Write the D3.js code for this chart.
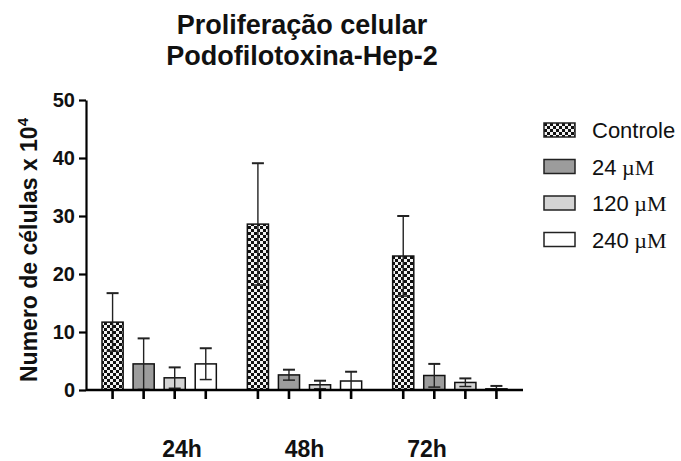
<!DOCTYPE html>
<html>
<head>
<meta charset="utf-8">
<script src="https://cdn.jsdelivr.net/npm/d3@7"></script>
<style>
  body { margin: 0; background: #fff; }
  text { font-family: "Liberation Sans", Arial, sans-serif; }
</style>
</head>
<body>
<svg id="chart" width="681" height="461"></svg>
<script>
// Data
let groups = ["24h", "48h", "72h"];
let series = ["Controle", "24", "120", "240"];
let seriesUnit = ["", " \u00b5M", " \u00b5M", " \u00b5M"];
let controleMean = [11.7, 28.6, 23.1];
let m24Mean = [4.5, 2.6, 2.5];
let m120Mean = [2.1, 0.9, 1.3];
let m240Mean = [4.5, 1.55, 0.2];
let controleErr = [5.0, 10.5, 6.9];
let m24Err = [4.4, 0.9, 2.0];
let m120Err = [1.8, 0.7, 0.7];
let m240Err = [2.7, 1.6, 0.5];
let yTicks = [0, 10, 20, 30, 40, 50];

let means = [controleMean, m24Mean, m120Mean, m240Mean];
let errs = [controleErr, m24Err, m120Err, m240Err];
let fills = ["url(#checker)", "#9c9c9c", "#d4d4d4", "#ffffff"];

// flatten into rows for the joins
let rows = [];
groups.forEach((g, gi) => {
    series.forEach((s, si) => {
        rows.push({ group: g, series: s, mean: means[si][gi], err: errs[si][gi], fill: fills[si] });
    });
});

let svg = d3.select("#chart");
let marginLeft = 86, marginTop = 100, width = 437, height = 290;

// checker pattern for the control bars
let pat = svg.append("defs").append("pattern")
    .attr("id", "checker")
    .attr("patternUnits", "userSpaceOnUse")
    .attr("width", 6).attr("height", 6);
pat.append("rect").attr("width", 6).attr("height", 6).attr("fill", "#f2f2f2");
pat.append("rect").attr("width", 3).attr("height", 3).attr("fill", "#111");
pat.append("rect").attr("x", 3).attr("y", 3).attr("width", 3).attr("height", 3).attr("fill", "#111");

let g = svg.append("g").attr("transform", `translate(${marginLeft},${marginTop})`);

let x0 = d3.scaleBand().domain(groups).range([0, width]).paddingInner(0.145).paddingOuter(0.076);
let x1 = d3.scaleBand().domain(series).range([0, x0.bandwidth()]).paddingInner(0.32).paddingOuter(0.16);
let y = d3.scaleLinear().domain([0, 50]).range([height, 0]);

// Bars
g.selectAll("rect.bar").data(rows).join("rect")
    .attr("class", "bar")
    .attr("x", d => x0(d.group) + x1(d.series))
    .attr("y", d => y(d.mean))
    .attr("width", x1.bandwidth())
    .attr("height", d => y(0) - y(d.mean))
    .attr("fill", d => d.fill)
    .attr("stroke", "#111")
    .attr("stroke-width", 1.5);

// Error bars
let eb = g.selectAll("g.err").data(rows).join("g")
    .attr("class", "err")
    .attr("transform", d => `translate(${x0(d.group) + x1(d.series) + x1.bandwidth() / 2},0)`);
eb.append("line")
    .attr("y1", d => y(d.mean + d.err))
    .attr("y2", d => y(Math.max(0, d.mean - d.err)))
    .attr("stroke", "#222").attr("stroke-width", 1.4);
eb.append("line")
    .attr("x1", -6).attr("x2", 6)
    .attr("y1", d => y(d.mean + d.err)).attr("y2", d => y(d.mean + d.err))
    .attr("stroke", "#222").attr("stroke-width", 2);
eb.append("line")
    .attr("x1", -6).attr("x2", 6)
    .attr("y1", d => y(Math.max(0, d.mean - d.err))).attr("y2", d => y(Math.max(0, d.mean - d.err)))
    .attr("stroke", "#222").attr("stroke-width", 1.5);

// y axis
let yAxis = d3.axisLeft(y).tickValues(yTicks).tickSize(7).tickSizeOuter(0).tickPadding(4);
let ya = g.append("g").call(yAxis);
ya.select(".domain").attr("stroke", "#000").attr("stroke-width", 2.2);
ya.selectAll(".tick line").attr("stroke", "#000").attr("stroke-width", 2.2);
ya.selectAll(".tick text")
    .attr("fill", "#111")
    .style("font-family", "Liberation Sans, Arial, sans-serif")
    .style("font-size", "20px").style("font-weight", "bold");

// x axis baseline and one tick per bar
g.append("line")
    .attr("x1", 0).attr("x2", width)
    .attr("y1", height).attr("y2", height)
    .attr("stroke", "#000").attr("stroke-width", 2.4);
g.selectAll("line.xtick").data(rows).join("line")
    .attr("class", "xtick")
    .attr("x1", d => x0(d.group) + x1(d.series) + x1.bandwidth() / 2)
    .attr("x2", d => x0(d.group) + x1(d.series) + x1.bandwidth() / 2)
    .attr("y1", height).attr("y2", height + 9)
    .attr("stroke", "#000").attr("stroke-width", 2.6);

// group labels sit off-centre in the original, so they get their own scale
let labelX = d3.scalePoint().domain(groups).range([182 - marginLeft, 427 - marginLeft]);
g.selectAll("text.glabel").data(groups).join("text")
    .attr("class", "glabel")
    .attr("x", d => labelX(d))
    .attr("y", height + 67)
    .attr("text-anchor", "middle")
    .style("font-size", "23px").style("font-weight", "bold")
    .attr("fill", "#111")
    .text(d => d);

// y axis title
let yt = svg.append("text")
    .attr("transform", "translate(37,250) rotate(-90)")
    .attr("text-anchor", "middle")
    .style("font-size", "23px").style("font-weight", "bold")
    .attr("fill", "#111");
yt.append("tspan").text("Numero de c\u00e9lulas x 10");
yt.append("tspan").attr("dy", -9).style("font-size", "15px").text("4");

// Title
let title = svg.append("text")
    .attr("x", 302).attr("y", 34)
    .attr("text-anchor", "middle")
    .style("font-size", "27px").style("font-weight", "bold")
    .attr("fill", "#111");
title.append("tspan").attr("x", 302).text("Prolifera\u00e7\u00e3o celular");
title.append("tspan").attr("x", 302).attr("dy", 31).text("Podofilotoxina-Hep-2");

// Legend
let legend = svg.append("g").attr("transform", "translate(544,123)");
let li = legend.selectAll("g").data(series).join("g")
    .attr("transform", (d, i) => `translate(0,${i * 36.5})`);
li.append("rect")
    .attr("width", 31).attr("height", 14)
    .attr("fill", (d, i) => fills[i])
    .attr("stroke", "#222").attr("stroke-width", 1.5);
let lt = li.append("text")
    .attr("x", 48).attr("y", 15)
    .style("font-size", "22px")
    .attr("fill", "#111");
lt.append("tspan").text(d => d);
lt.append("tspan")
    .style("font-family", "Liberation Serif, Times New Roman, serif")
    .text((d, i) => seriesUnit[i]);
</script>
</body>
</html>
